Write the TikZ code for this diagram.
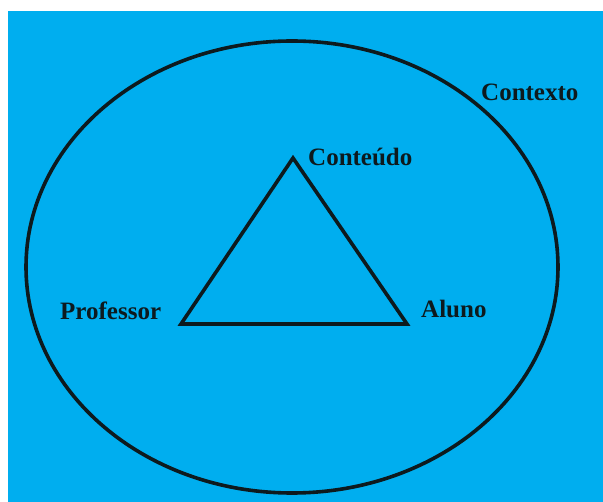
\documentclass[tikz,border=0pt]{standalone}
\usepackage{fontspec}
\usetikzlibrary{shapes.geometric}
\setmainfont{Liberation Serif}
\definecolor{bgblue}{HTML}{00AEEF}
\definecolor{ink}{HTML}{0D1A1E}
\begin{document}
\begin{tikzpicture}[x=1pt,y=-1pt,
  lbl/.style={inner sep=0pt,anchor=base west,text=ink,font=\fontsize{25}{29}\selectfont\bfseries},
  shape line/.style={draw=ink,line width=3.6pt}]
\useasboundingbox (0,0) rectangle (603,502);
\fill[white] (0,0) rectangle (603,502);
\fill[bgblue] (8,11) rectangle (603,502);
\node[shape line,ellipse,minimum width=532pt,minimum height=452pt,inner sep=0pt] (ctx) at (292,267) {};
\coordinate (top) at (293,158);
\coordinate (left) at (181,324);
\coordinate (right) at (407,324);
\draw[shape line,line join=miter] (top) -- (left) -- (right) -- cycle;
\node[lbl] (contexto) at (481,101) {Contexto};
\node[lbl] (conteudo) at (308,166) {Conteúdo};
\node[lbl] (professor) at (60,320) {Professor};
\node[lbl] (aluno) at (421,318) {Aluno};
\end{tikzpicture}
\end{document}
